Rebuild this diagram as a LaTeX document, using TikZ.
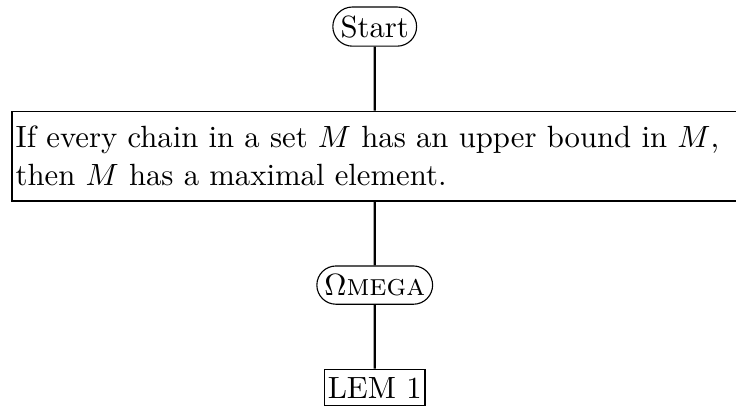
\documentclass[tikz,border=0pt,11pt]{standalone}
\usepackage{amsmath,amssymb}
\usepackage{tikz}
\usetikzlibrary{shapes.misc, positioning, calc}

\begin{document}
\begin{tikzpicture}[
    node distance=0.8cm,
    terminal/.style={rounded rectangle, draw, inner xsep=1.5pt, inner ysep=3pt},
    block/.style={rectangle, draw, text width=256pt, inner xsep=1.3pt, inner ysep=5.3pt},
    plain/.style={rectangle, draw, inner xsep=1.2pt, inner ysep=2.8pt},
    line/.style={draw, thick}
]

% Nodes
\node[terminal] (start) {Start};
\node[block, below=of start] (zorn) {If every chain in a set $M$ has an upper bound in $M$, then $M$ has a maximal element.};
\node[terminal, below=of zorn] (omega) {$\Omega$\textsc{mega}};
\node[plain, below=of omega] (lem) {LEM 1};

% Paths
\path[line] (start) -- (zorn);
\path[line] (zorn) -- (omega);
\path[line] (omega) -- (lem);

% Frame
\pgfresetboundingbox
\path[use as bounding box] ($(zorn.west |- start.north)+(-4.1pt,2.3pt)$) rectangle ($(zorn.east |- lem.south)+(-0.7pt,-0.2pt)$);

\end{tikzpicture}
\end{document}
